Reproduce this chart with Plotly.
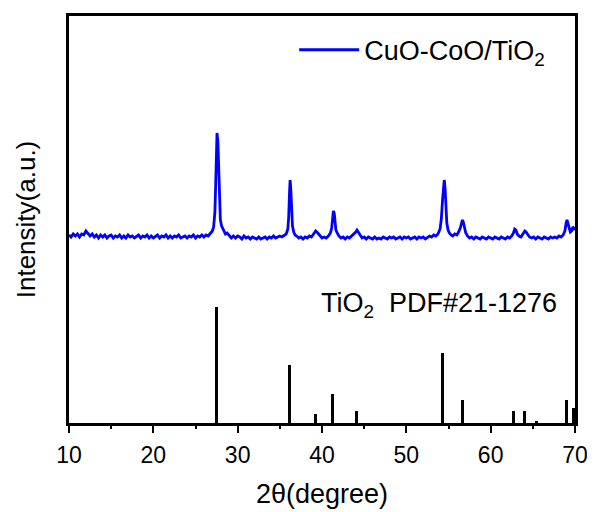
import plotly.graph_objects as go

# ---------------- data ----------------
# Measured XRD pattern of CuO-CoO/TiO2 (intensity in arbitrary units above baseline)
two_theta = [
    10.00, 10.25, 10.50, 10.75, 11.00, 11.25, 11.50, 11.75, 12.00, 12.25, 12.50, 12.75,
    13.00, 13.25, 13.50, 13.75, 14.00, 14.25, 14.50, 14.75, 15.00, 15.25, 15.50, 15.75,
    16.00, 16.25, 16.50, 16.75, 17.00, 17.25, 17.50, 17.75, 18.00, 18.25, 18.50, 18.75,
    19.00, 19.25, 19.50, 19.75, 20.00, 20.25, 20.50, 20.75, 21.00, 21.25, 21.50, 21.75,
    22.00, 22.25, 22.50, 22.75, 23.00, 23.25, 23.50, 23.75, 24.00, 24.25, 24.50, 24.75,
    25.00, 25.25, 25.50, 25.75, 26.00, 26.25, 26.50,
    26.75, 27.00, 27.15, 27.30, 27.40, 27.50, 27.55, 27.65, 27.75, 27.85, 27.95, 28.10,
    28.25, 28.40, 28.55, 28.75, 29.00,
    29.25, 29.50, 29.75, 30.00, 30.25, 30.50, 30.75, 31.00, 31.25, 31.50, 31.75, 32.00,
    32.25, 32.50, 32.75, 33.00, 33.25, 33.50, 33.75, 34.00, 34.25, 34.50, 34.75, 35.00,
    35.25, 35.50,
    35.75, 35.95, 36.05, 36.15, 36.22, 36.30, 36.40, 36.50, 36.65, 36.80, 37.00, 37.25,
    37.50, 37.75, 38.00, 38.25, 38.50, 38.75, 39.00, 39.25, 39.50, 39.75, 40.00, 40.25,
    40.50, 40.75, 41.00,
    41.15, 41.25, 41.35, 41.45, 41.55, 41.65, 41.80, 42.00, 42.25, 42.50, 42.75, 43.00,
    43.25, 43.50, 43.75, 44.00, 44.15, 44.30, 44.50, 44.75, 45.00, 45.25, 45.50, 45.75,
    46.00, 46.25, 46.50, 46.75, 47.00, 47.25, 47.50, 47.75, 48.00, 48.25, 48.50, 48.75,
    49.00, 49.25, 49.50, 49.75, 50.00, 50.25, 50.50, 50.75, 51.00, 51.25, 51.50, 51.75,
    52.00, 52.25, 52.50, 52.75, 53.00, 53.25, 53.50, 53.75, 54.00,
    54.15, 54.30, 54.40, 54.50, 54.60, 54.70, 54.80, 54.95, 55.10, 55.30, 55.50, 55.75,
    56.00, 56.20, 56.40, 56.55, 56.65, 56.75, 56.90, 57.05, 57.25, 57.50, 57.75, 58.00,
    58.25, 58.50, 58.75, 59.00, 59.25, 59.50, 59.75, 60.00, 60.25, 60.50, 60.75, 61.00,
    61.25, 61.50, 61.75, 62.00, 62.25, 62.50, 62.70, 62.85, 63.00, 63.15, 63.35, 63.60,
    63.85, 64.05, 64.20, 64.40, 64.60, 64.85, 65.10, 65.35, 65.60, 65.85, 66.10, 66.35,
    66.60, 66.85, 67.10, 67.35, 67.60, 67.85, 68.10, 68.35, 68.60, 68.80, 68.95, 69.05,
    69.15, 69.30, 69.45, 69.60, 69.75, 69.85, 70.00,
]
intensity = [
    2, 0, 3, 1, 3, 0, 3, 2, 6, 3, 1, 3,
    0, 2, -1, 2, 0, 2, -1, 1, 2, -1, 1, 0,
    2, -1, 1, -1, 2, 0, 1, -1, 1, 2, -1, 1,
    0, 2, -1, 1, -1, 1, 2, -1, 1, 0, 2, -1,
    1, -1, 1, 0, 2, -1, 0, 1, -1, 1, 0, 2,
    -1, 1, 0, 2, 0, 2, 1,
    3, 6, 10, 25, 55, 92, 104, 96, 60, 30, 17, 11,
    8, 6, 3, 4, 1,
    -1, 1, -1, 1, 0, -2, 1, -1, 0, -2, 0, -1,
    -2, 0, -2, -1, 0, -2, 0, -1, 1, -1, 0, 1,
    0, 2,
    3, 8, 20, 45, 57, 48, 25, 11, 5, 2, 1, -1,
    0, -2, 0, -1, 1, 0, 3, 6, 4, 1, -1, 0,
    -1, 1, 4,
    9, 17, 26, 24, 14, 7, 4, 1, -1, 0, -2, 0,
    -1, 1, 2, 5, 7, 5, 2, -1, 0, -2, 0, -1,
    -2, 0, -2, -1, -2, 0, -1, -2, 0, -1, 0, -2,
    -1, 0, -2, 0, -1, 0, -2, -1, 0, -2, 0, -1,
    0, -2, 0, 1, 0, 2, 1, 3, 8,
    18, 38, 52, 57, 48, 28, 14, 7, 4, 2, 1, 3,
    2, 5, 9, 14, 17, 15, 8, 4, 1, -1, 0, -2,
    0, -1, -2, 0, -1, -2, 0, -1, -2, 0, -1, -2,
    0, -1, -2, 0, -1, 1, 4, 8, 7, 3, 1, 0,
    3, 6, 5, 2, 0, -1, 0, -2, 0, -1, -2, 0,
    -1, -2, 0, -1, 0, -1, 1, 0, 2, 6, 14, 17,
    14, 8, 5, 6, 10, 9, 7,
]

# Standard TiO2 (rutile) PDF#21-1276 lines: positions and relative intensities
pdf_two_theta = [27.45, 36.09, 39.19, 41.23, 44.05, 54.32, 56.64, 62.74, 64.04, 65.48, 69.01, 69.79]
pdf_intensity = [100, 50, 8, 25, 10, 60, 20, 10, 10, 2, 20, 13]

sample_label = "CuO-CoO/TiO<sub>2</sub>"
pdf_label = "TiO<sub>2</sub>  PDF#21-1276"
x_ticks = [10, 20, 30, 40, 50, 60, 70]

# ---------------- display settings ----------------
pattern_offset = 186      # vertical offset of the measured pattern
pdf_scale = 1.16          # scale of the reference stick pattern
font_family = "Liberation Sans, Arial, sans-serif"

fig = go.Figure()

fig.add_trace(go.Bar(
    x=pdf_two_theta,
    y=[v * pdf_scale for v in pdf_intensity],
    base=0,
    width=0.35,
    marker=dict(color="black", line=dict(width=0)),
    showlegend=False,
    hoverinfo="x+y",
))

fig.add_trace(go.Scatter(
    x=two_theta,
    y=[v + pattern_offset for v in intensity],
    mode="lines",
    line=dict(color="#0000ff", width=2.8),
    name=sample_label,
    showlegend=True,
))

fig.add_annotation(
    x=39.6, y=118, xref="x", yref="y",
    text=pdf_label, showarrow=False,
    xanchor="left", yanchor="middle",
    font=dict(family=font_family, size=27, color="black"),
)

# the page body adds an 8 px offset, so the figure is 8 px smaller on each axis
fig.update_layout(
    width=587, height=504,
    margin=dict(l=61, r=20, t=8, b=89, autoexpand=False),
    paper_bgcolor="white",
    plot_bgcolor="white",
    font=dict(family=font_family, color="black"),
    bargap=0,
    legend=dict(
        x=0.445, y=0.916, xanchor="left", yanchor="middle",
        bgcolor="rgba(0,0,0,0)", borderwidth=0,
        font=dict(family=font_family, size=27, color="black"),
        itemwidth=60,
    ),
)

fig.update_xaxes(
    range=[10, 70],
    tickvals=x_ticks,
    ticks="outside", ticklen=7, tickwidth=2, tickcolor="black",
    ticklabelstandoff=3,
    minor=dict(dtick=5, tick0=5, ticks="outside", ticklen=3, tickwidth=2, tickcolor="black"),
    showline=True, linecolor="black", linewidth=2.5, mirror=True,
    showgrid=False, zeroline=False, automargin=False,
    tickfont=dict(family=font_family, size=23, color="black"),
    title=dict(text="2θ(degree)", font=dict(family=font_family, size=27, color="black"), standoff=17),
)

fig.update_yaxes(
    range=[0, 407],
    showticklabels=False, ticks="",
    showline=True, linecolor="black", linewidth=2.5, mirror=True,
    showgrid=False, zeroline=False, automargin=False,
    title=dict(text="Intensity(a.u.)", font=dict(family=font_family, size=26, color="black"), standoff=24),
)

fig.write_html("out.html")
